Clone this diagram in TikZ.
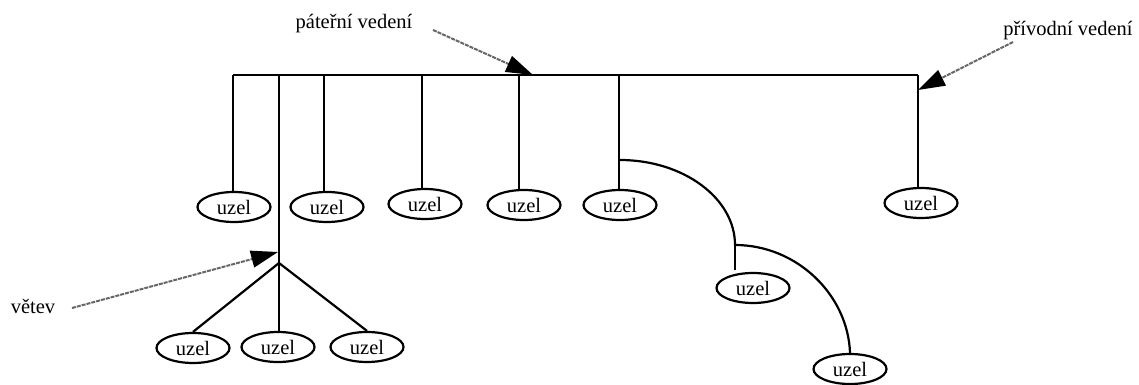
\documentclass[tikz,border=0pt]{standalone}
\usepackage{fontspec}
\setmainfont{Liberation Serif}
\newfontfamily\diagramfont{Liberation Serif}
\usetikzlibrary{arrows.meta,shapes.geometric}
\begin{document}
\begin{tikzpicture}[x=1pt,y=-1pt,
  wire/.style={line width=2.2pt,black},
  uzelnode/.style={draw,ellipse,line width=2.2pt,minimum width=73pt,minimum height=30pt,inner sep=0pt,
    font=\diagramfont\fontsize{20.5}{24}\selectfont},
  lab/.style={font=\diagramfont\fontsize{20.5}{24}\selectfont,inner sep=0pt},
  pointer/.style={black!60,line width=2pt,dash pattern=on 4pt off 1pt,
    -{Triangle[length=27pt,width=17pt,color=black]}}]
\useasboundingbox (0,0) rectangle (1139,385);

% backbone line
\coordinate (busL) at (233,75);
\coordinate (busR) at (918,75);
\draw[wire] (busL) -- (busR);

% taps on the backbone
\coordinate (t1) at (233,75);
\coordinate (t2) at (279,75);
\coordinate (t3) at (324,75);
\coordinate (t4) at (422,75);
\coordinate (t5) at (519,75);
\coordinate (t6) at (619,75);
\coordinate (t7) at (918,75);

% nodes hanging from the backbone
\node[uzelnode] (n1) at (234,207) {uzel};
\node[uzelnode] (n2) at (327,207) {uzel};
\node[uzelnode] (n3) at (425,204) {uzel};
\node[uzelnode] (n4) at (524,205) {uzel};
\node[uzelnode] (n5) at (620,205) {uzel};
\node[uzelnode] (n6) at (921,203) {uzel};

\draw[wire] (t1) -- (t1 |- n1.north);
\draw[wire] (t3) -- (t3 |- n2.north);
\draw[wire] (t4) -- (t4 |- n3.north);
\draw[wire] (t5) -- (t5 |- n4.north);
\draw[wire] (t6) -- (t6 |- n5.north);
\draw[wire] (t7) -- (t7 |- n6.north);

% branch
\coordinate (br) at (279,263);
\node[uzelnode] (b1) at (193,348) {uzel};
\node[uzelnode] (b2) at (278,347) {uzel};
\node[uzelnode] (b3) at (367,347) {uzel};
\draw[wire] (t2) -- (br) -- (br |- b2.north);
\draw[wire] (br) -- (b1.north);
\draw[wire] (br) -- (b3.north);

% curved chain
\coordinate (j1) at (620,160);
\coordinate (j2) at (735,245);
\node[uzelnode] (c1) at (753,288) {uzel};
\node[uzelnode] (c2) at (850,369) {uzel};
\draw[wire] (j1) .. controls (683,160) and (735,198) .. (j2);
\draw[wire] (j2) -- ([yshift=2pt]j2 |- c1.north);
\draw[wire] (j2) .. controls (797,245) and (848,295) .. (c2.north);

% labels with pointers
\node[lab] (lab1) at (354,24) {páteřní vedení};
\node[lab] (lab2) at (1068,31) {přívodní vedení};
\node[lab] (lab3) at (33,306) {větev};

\coordinate (a1s) at (433,30);
\coordinate (a1e) at (533,75);
\coordinate (a2s) at (1013,42);
\coordinate (a2e) at (918,90);
\coordinate (a3s) at (72,308);
\coordinate (a3e) at (278,252);

\draw[pointer] (a1s) -- (a1e);
\draw[pointer] (a2s) -- (a2e);
\draw[pointer] (a3s) -- (a3e);
\end{tikzpicture}
\end{document}
